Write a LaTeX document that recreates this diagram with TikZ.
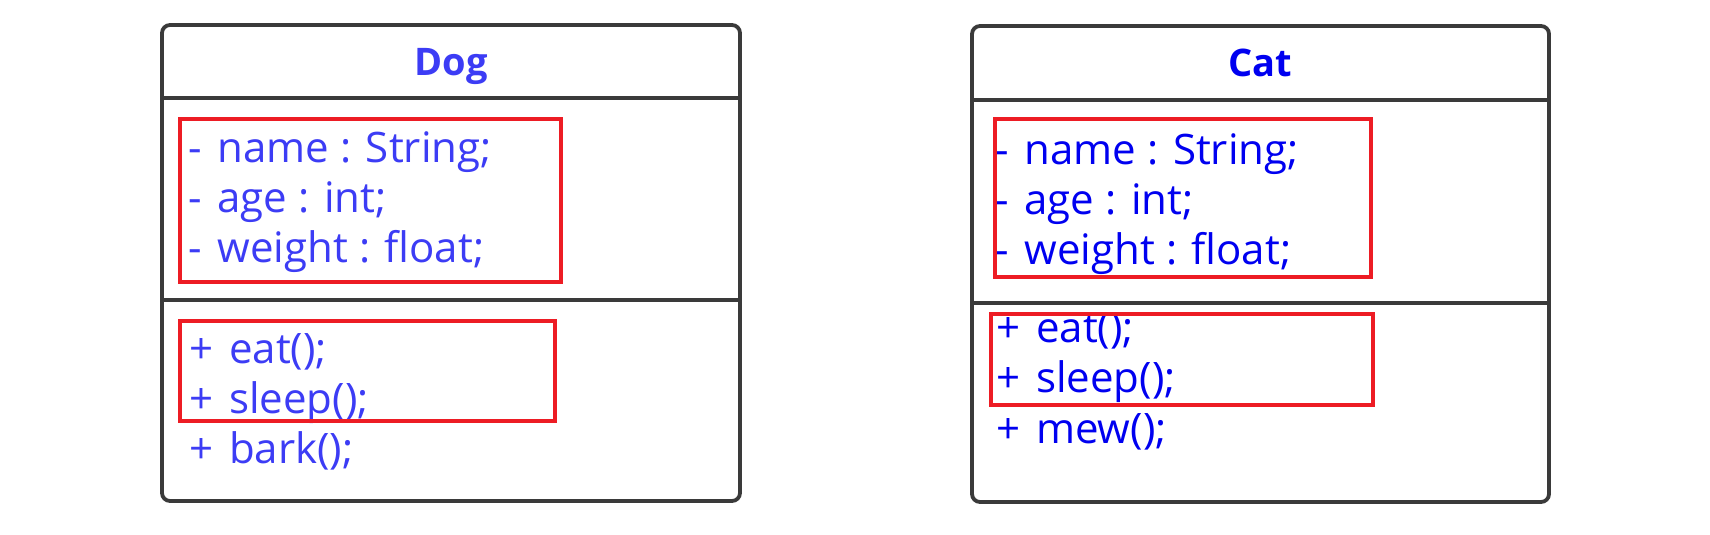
\documentclass[tikz,border=0pt]{standalone}
\usepackage{fontspec}
\setmainfont{Open Sans}
\definecolor{boxgray}{HTML}{3A3A3A}
\definecolor{hired}{HTML}{ED1C24}
\definecolor{dogblue}{HTML}{3C3CF5}
\definecolor{catblue}{HTML}{0000F0}
\newcommand{\pub}{+\kern5pt\ }
\newcommand{\priv}{-\kern5pt\ }
\tikzset{
  classbox/.style={draw=boxgray, line width=3.8pt, rounded corners=8pt},
  divider/.style={draw=boxgray, line width=3.8pt},
  hibox/.style={draw=hired, line width=4.8pt},
  member/.style={anchor=base west, inner sep=0pt, font=\fontsize{42}{50}\selectfont},
  title/.style={anchor=base, inner sep=0pt, font=\fontsize{38}{44}\selectfont\bfseries},
}
\begin{document}
\begin{tikzpicture}[x=1pt, y=-1pt]
\useasboundingbox[fill=white] (0,0) rectangle (1710,535);
% ---------- Dog ----------
\draw[classbox] (162,25) rectangle (740,501);
\draw[divider] (162,98) -- (740,98);
\draw[divider] (162,300) -- (740,300);
\node[title, text=dogblue] (dogtitle) at (451,75) {Dog};
\node[member, text=dogblue] (dogname) at (188,162) {\priv name : String;};
\node[member, text=dogblue] (dogage) at (188,212) {\priv age : int;};
\node[member, text=dogblue] (dogweight) at (188,262) {\priv weight : float;};
\node[member, text=dogblue] (dogeat) at (189,363) {\pub eat();};
\node[member, text=dogblue] (dogsleep) at (189,413) {\pub sleep();};
\node[member, text=dogblue] (dogbark) at (189,463) {\pub bark();};
\draw[hibox] (180,119) rectangle (561,282);
\draw[hibox] (180,321) rectangle (555,421);
% ---------- Cat ----------
\draw[classbox] (972,26) rectangle (1549,502);
\draw[divider] (972,100) -- (1549,100);
\draw[divider] (972,303) -- (1549,303);
\node[title, text=catblue] (cattitle) at (1260,77) {Cat};
\node[member, text=catblue] (catname) at (995,164) {\priv name : String;};
\node[member, text=catblue] (catage) at (995,214) {\priv age : int;};
\node[member, text=catblue] (catweight) at (995,264) {\priv weight : float;};
\node[member, text=catblue] (cateat) at (996,342) {\pub eat();};
\node[member, text=catblue] (catsleep) at (996,392) {\pub sleep();};
\node[member, text=catblue] (catmew) at (996,443) {\pub mew();};
\draw[hibox] (995,119) rectangle (1371,277);
\draw[hibox] (991,314) rectangle (1373,405);
\end{tikzpicture}
\end{document}
